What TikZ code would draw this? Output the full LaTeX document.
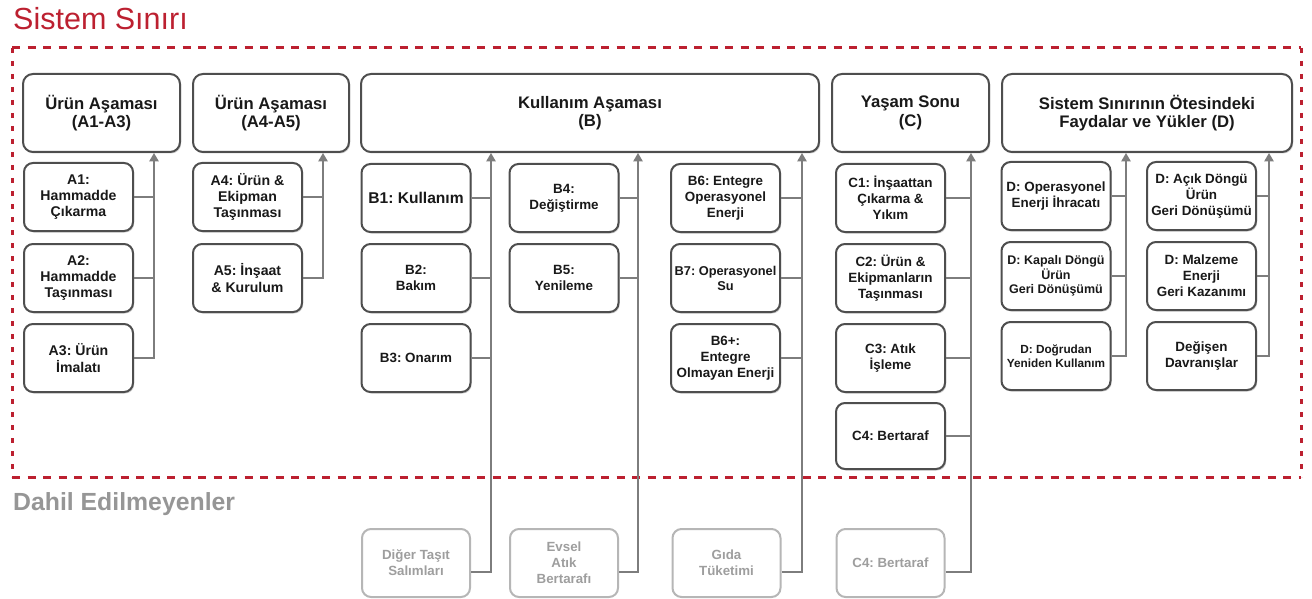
\documentclass[tikz,border=0pt]{standalone}
\usepackage{fontspec}
\setmainfont{Liberation Sans}
\usetikzlibrary{arrows.meta,shadows}
\definecolor{bred}{RGB}{188,32,48}
\definecolor{boxline}{RGB}{78,78,78}
\definecolor{conn}{RGB}{125,125,125}
\definecolor{exline}{RGB}{182,182,182}
\definecolor{extext}{RGB}{158,158,158}
\definecolor{dahil}{RGB}{150,150,150}
\begin{document}
\frenchspacing
\begin{tikzpicture}[x=1pt,y=-1pt,
  shd/.style={drop shadow={shadow xshift=1.2pt,shadow yshift=-1.5pt,fill=black,opacity=0.18}},
  hdr/.style={shd,draw=boxline,line width=2pt,rounded corners=10pt,fill=white,align=center,
    inner sep=0pt,minimum height=78pt,text=black!90,font=\fontsize{16.7}{18.5}\selectfont\bfseries},
  sub/.style={shd,draw=boxline,line width=2pt,rounded corners=9pt,fill=white,align=center,
    inner sep=0pt,minimum width=109pt,minimum height=68pt,text=black!90,font=\fontsize{13.4}{16}\selectfont\bfseries},
  asub/.style={sub,font=\fontsize{14.1}{16.2}\selectfont\bfseries},
  exbox/.style={draw=exline,line width=2pt,rounded corners=9pt,fill=white,align=center,
    inner sep=0pt,minimum width=108pt,minimum height=68pt,text=extext,font=\fontsize{13.3}{16}\selectfont\bfseries},
  link/.style={draw=conn,line width=1.4pt},
  arr/.style={link,-{Triangle[width=9.5pt,length=8.5pt]}},
  bound/.style={draw=bred,line width=3pt}
]
\useasboundingbox (0,0) rectangle (1312,599);

% titles
\node[anchor=base west,inner sep=0pt,text=bred,font=\fontsize{30.5}{32}\selectfont] (title) at (13,30) {Sistem Sınırı};
\node[anchor=base west,inner sep=0pt,text=dahil,font=\fontsize{24.8}{26}\selectfont\bfseries] (excl) at (13,510) {Dahil Edilmeyenler};

% system boundary
\draw[bound,dash pattern=on 8pt off 7.5pt] (12,48) -- (1301,48);
\draw[bound,dash pattern=on 8pt off 7.5pt] (12,477) -- (1301,477);
\draw[bound,dash pattern=on 5pt off 8pt] (12,48) -- (12,477);
\draw[bound,dash pattern=on 5pt off 8pt] (1301,48) -- (1301,477);

% line x positions
\coordinate (la) at (154,0);
\coordinate (lb) at (323,0);
\coordinate (lc) at (491,0);
\coordinate (ld) at (638,0);
\coordinate (le) at (802,0);
\coordinate (lf) at (971,0);
\coordinate (lg) at (1126,0);
\coordinate (lh) at (1269,0);

% headers
\node[hdr,minimum width=157pt] (h1) at (101.5,113) {Ürün Aşaması\\(A1-A3)};
\node[hdr,minimum width=156pt] (h2) at (271,113) {Ürün Aşaması\\(A4-A5)};
\node[hdr,minimum width=458pt] (h3) at (590,113) {Kullanım Aşaması\\(B)};
\node[hdr,minimum width=157pt] (h4) at (910.5,113) {Yaşam Sonu\\(C)};
\node[hdr,minimum width=290pt] (h5) at (1147,113) {Sistem Sınırının Ötesindeki\\Faydalar ve Yükler (D)};

% A1-A3
\node[asub] (a1) at (78.5,197) {A1:\\Hammadde\\Çıkarma};
\node[asub] (a2) at (78.5,278) {A2:\\Hammadde\\Taşınması};
\node[asub] (a3) at (78.5,358) {A3: Ürün\\İmalatı};
% A4-A5
\node[asub] (a4) at (247.5,197) {A4: Ürün \&\\Ekipman\\Taşınması};
\node[asub] (a5) at (247.5,278) {A5: İnşaat\\\& Kurulum};
% B
\node[sub,font=\fontsize{15.6}{18}\selectfont\bfseries] (b1) at (416,198) {B1: Kullanım};
\node[sub] (b2) at (416,278) {B2:\\Bakım};
\node[sub] (b3) at (416,358) {B3: Onarım};
\node[sub] (b4) at (564,198) {B4:\\Değiştirme};
\node[sub] (b5) at (564,278) {B5:\\Yenileme};
\node[sub] (b6) at (725.5,198) {B6: Entegre\\Operasyonel\\Enerji};
\node[sub,font=\fontsize{12.8}{15}\selectfont\bfseries] (b7) at (725.5,278) {B7: Operasyonel\\Su};
\node[sub] (b6p) at (725.5,358) {B6+:\\Entegre\\Olmayan Enerji};
% C
\node[sub] (c1) at (890.5,198) {C1: İnşaattan\\Çıkarma \&\\Yıkım};
\node[sub] (c2) at (890.5,278) {C2: Ürün \&\\Ekipmanların\\Taşınması};
\node[sub] (c3) at (890.5,358) {C3: Atık\\İşleme};
\node[sub,minimum height=66pt] (c4) at (890.5,436) {C4: Bertaraf};
% D
\node[sub] (d1) at (1056,196) {D: Operasyonel\\Enerji İhracatı};
\node[sub,font=\fontsize{12.5}{14.5}\selectfont\bfseries] (d2) at (1056,276) {D: Kapalı Döngü\\Ürün\\Geri Dönüşümü};
\node[sub,font=\fontsize{11.8}{14.5}\selectfont\bfseries] (d3) at (1056,356) {D: Doğrudan\\Yeniden Kullanım};
\node[sub] (d4) at (1201.5,196) {D: Açık Döngü\\Ürün\\Geri Dönüşümü};
\node[sub] (d5) at (1201.5,276) {D: Malzeme\\Enerji\\Geri Kazanımı};
\node[sub] (d6) at (1201.5,356) {Değişen\\Davranışlar};

% excluded
\node[exbox] (x1) at (416,563) {Diğer Taşıt\\Salımları};
\node[exbox] (x2) at (564,563) {Evsel\\Atık\\Bertarafı};
\node[exbox] (x3) at (726.5,563) {Gıda\\Tüketimi};
\node[exbox] (x4) at (890.5,563) {C4: Bertaraf};

% connectors A
\draw[link] (a1.east) -- (a1.east -| la);
\draw[link] (a2.east) -- (a2.east -| la);
\draw[arr] (a3.east) -| (la |- h1.south);
\draw[link] (a4.east) -- (a4.east -| lb);
\draw[arr] (a5.east) -| (lb |- h2.south);
% connectors B
\draw[link] (b1.east) -- (b1.east -| lc);
\draw[link] (b2.east) -- (b2.east -| lc);
\draw[link] (b3.east) -- (b3.east -| lc);
\draw[arr] ([yshift=-9pt]x1.east) -| (lc |- h3.south);
\draw[link] (b4.east) -- (b4.east -| ld);
\draw[link] (b5.east) -- (b5.east -| ld);
\draw[arr] ([yshift=-9pt]x2.east) -| (ld |- h3.south);
\draw[link] (b6.east) -- (b6.east -| le);
\draw[link] (b7.east) -- (b7.east -| le);
\draw[link] (b6p.east) -- (b6p.east -| le);
\draw[arr] ([yshift=-9pt]x3.east) -| (le |- h3.south);
% connectors C
\draw[link] (c1.east) -- (c1.east -| lf);
\draw[link] (c2.east) -- (c2.east -| lf);
\draw[link] (c3.east) -- (c3.east -| lf);
\draw[link] (c4.east) -- (c4.east -| lf);
\draw[arr] ([yshift=-9pt]x4.east) -| (lf |- h4.south);
% connectors D
\draw[link] (d1.east) -- (d1.east -| lg);
\draw[link] (d2.east) -- (d2.east -| lg);
\draw[arr] (d3.east) -| (lg |- h5.south);
\draw[link] (d4.east) -- (d4.east -| lh);
\draw[link] (d5.east) -- (d5.east -| lh);
\draw[arr] (d6.east) -| (lh |- h5.south);
\end{tikzpicture}
\end{document}
